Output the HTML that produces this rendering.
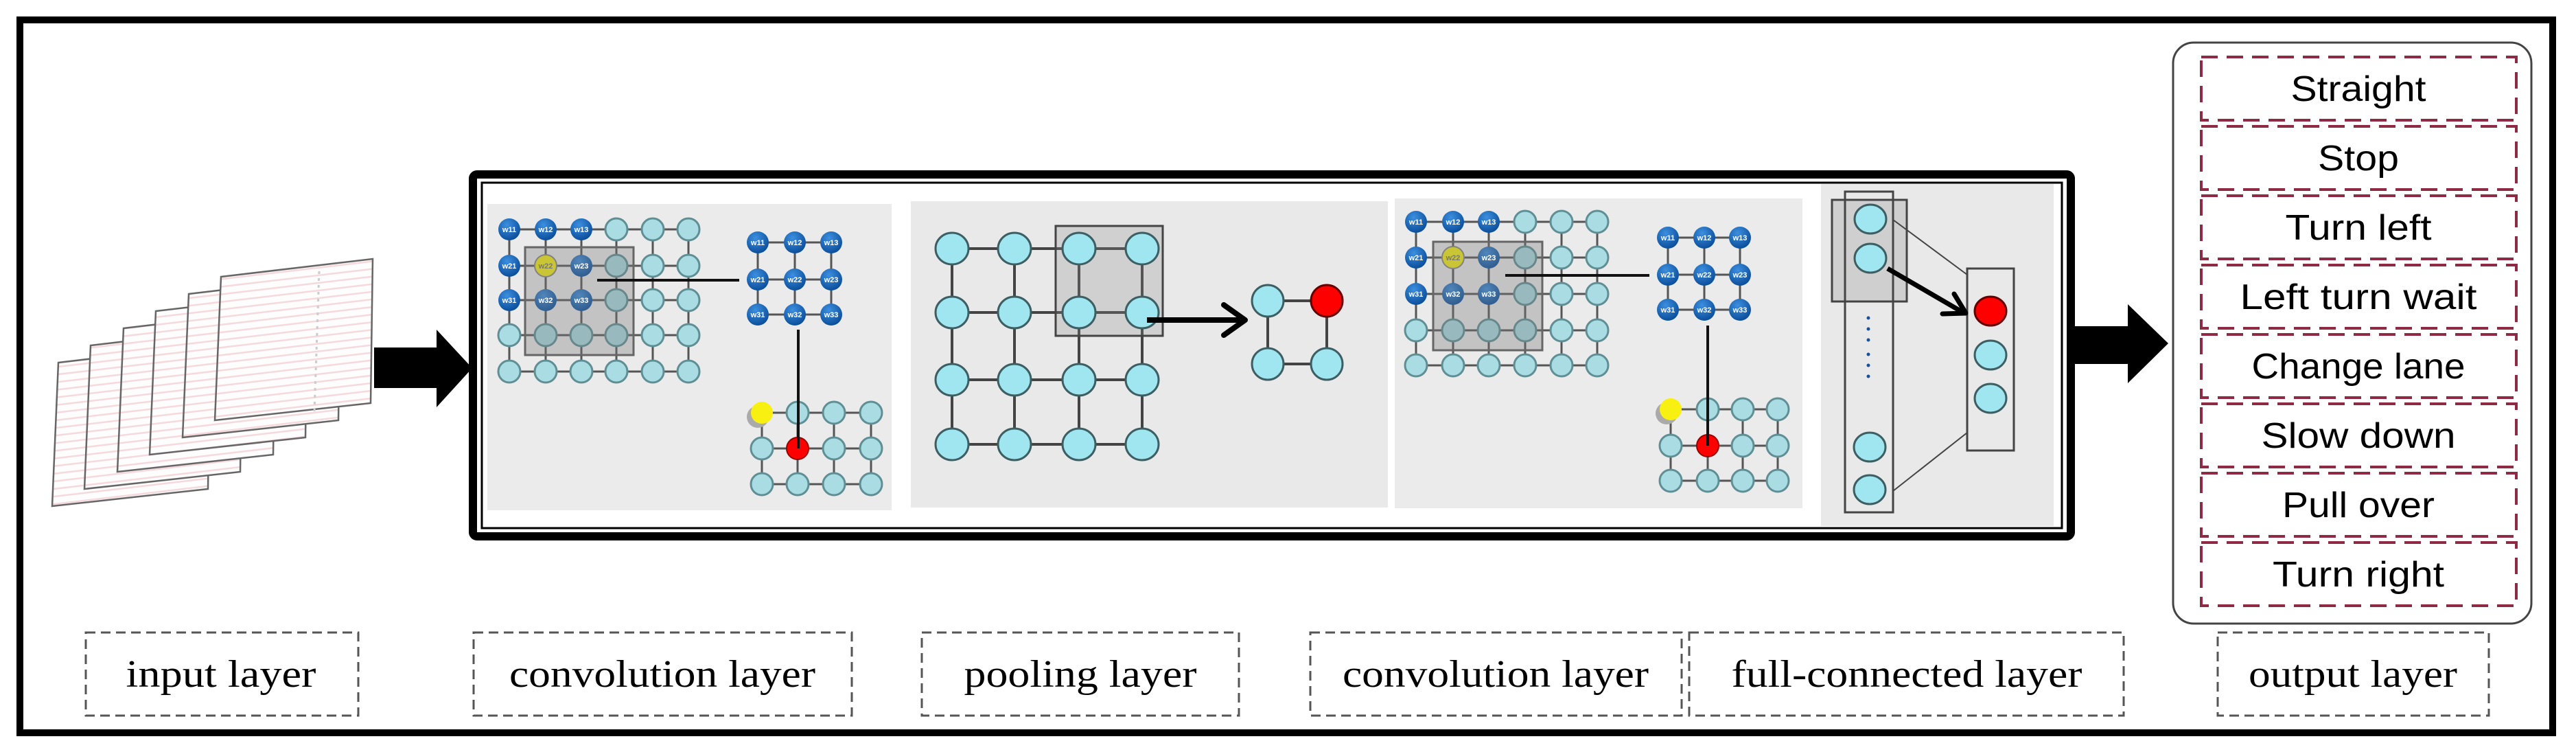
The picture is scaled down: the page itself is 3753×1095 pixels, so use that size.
<!DOCTYPE html>
<html><head><meta charset="utf-8"><style>
html,body{margin:0;padding:0;background:#fff;}
svg{display:block;}
</style></head><body>
<svg width="3753" height="1095" viewBox="0 0 3753 1095" xmlns="http://www.w3.org/2000/svg">
<defs>
<pattern id="lines" patternUnits="userSpaceOnUse" width="40" height="11" patternTransform="rotate(-6.7)">
<rect width="40" height="11" fill="#fdfdfd"/>
<rect y="0" width="40" height="2.5" fill="#f6d9dc"/>
</pattern>
<radialGradient id="blue" cx="0.4" cy="0.3" r="0.7">
<stop offset="0" stop-color="#3d8fe0"/><stop offset="1" stop-color="#0b4f9c"/>
</radialGradient>
</defs>
<rect x="29" y="29" width="3690" height="1038" fill="#fff" stroke="#000" stroke-width="10"/>

<g stroke="#666" stroke-width="2.5">
<polygon points="85,528 306,502 303,712 76,737" fill="url(#lines)"/>
<polygon points="132,503 353,477 350,687 123,712" fill="url(#lines)"/>
<polygon points="180,478 401,452 398,662 171,687" fill="url(#lines)"/>
<polygon points="227,453 448,427 445,637 218,662" fill="url(#lines)"/>
<polygon points="275,428 496,402 493,612 266,637" fill="url(#lines)"/>
<polygon points="322,403 543,377 540,587 313,612" fill="url(#lines)"/>
</g>
<line x1="465" y1="395" x2="458" y2="600" stroke="#ccc" stroke-width="3" stroke-dasharray="4 6"/>

<polygon points="545,506 636,506 636,480 688,536 636,593 636,565 545,565" fill="#000"/>

<rect x="689" y="254" width="2328" height="527" rx="6" fill="#fff" stroke="#000" stroke-width="12"/>
<rect x="702" y="266" width="2302" height="503" fill="none" stroke="#000" stroke-width="3"/>

<rect x="710" y="297" width="589" height="446" fill="#ebebeb"/>
<rect x="1327" y="293" width="695" height="446" fill="#e9e9e9"/>
<rect x="2032" y="289" width="594" height="451" fill="#ebebeb"/>
<rect x="2653" y="268" width="339" height="498" fill="#e9e9e9"/>

<g stroke="#555" stroke-width="3">
<line x1="742" y1="334" x2="1003" y2="334"/><line x1="742" y1="387" x2="1003" y2="387"/><line x1="742" y1="437" x2="1003" y2="437"/><line x1="742" y1="488" x2="1003" y2="488"/><line x1="742" y1="541" x2="1003" y2="541"/>
<line x1="742" y1="334" x2="742" y2="541"/><line x1="795" y1="334" x2="795" y2="541"/><line x1="847" y1="334" x2="847" y2="541"/><line x1="898" y1="334" x2="898" y2="541"/><line x1="951" y1="334" x2="951" y2="541"/><line x1="1003" y1="334" x2="1003" y2="541"/>
</g>
<g fill="#a9dde3" stroke="#5f8f95" stroke-width="3">
<circle cx="898" cy="334" r="16"/><circle cx="951" cy="334" r="16"/><circle cx="1003" cy="334" r="16"/>
<circle cx="898" cy="387" r="16"/><circle cx="951" cy="387" r="16"/><circle cx="1003" cy="387" r="16"/>
<circle cx="898" cy="437" r="16"/><circle cx="951" cy="437" r="16"/><circle cx="1003" cy="437" r="16"/>
<circle cx="742" cy="488" r="16"/><circle cx="795" cy="488" r="16"/><circle cx="847" cy="488" r="16"/><circle cx="898" cy="488" r="16"/><circle cx="951" cy="488" r="16"/><circle cx="1003" cy="488" r="16"/>
<circle cx="742" cy="541" r="16"/><circle cx="795" cy="541" r="16"/><circle cx="847" cy="541" r="16"/><circle cx="898" cy="541" r="16"/><circle cx="951" cy="541" r="16"/><circle cx="1003" cy="541" r="16"/>
</g>
<g fill="url(#blue)">
<circle cx="742" cy="334" r="16"/><circle cx="795" cy="334" r="16"/><circle cx="847" cy="334" r="16"/>
<circle cx="742" cy="387" r="16"/><circle cx="847" cy="387" r="16"/>
<circle cx="742" cy="437" r="16"/><circle cx="795" cy="437" r="16"/><circle cx="847" cy="437" r="16"/>
</g>
<circle cx="795" cy="387" r="16" fill="#f4ee10" stroke="#888" stroke-width="2"/>
<rect x="765" y="360" width="158" height="157" fill="#777" fill-opacity="0.35" stroke="#666" stroke-width="3"/>
<g font-family="Liberation Sans, sans-serif" font-size="11" font-weight="bold" fill="#fff" text-anchor="middle">
<text x="742" y="338">w11</text><text x="795" y="338">w12</text><text x="847" y="338">w13</text>
<text x="742" y="391">w21</text><text x="795" y="391" fill="#777">w22</text><text x="847" y="391">w23</text>
<text x="742" y="441">w31</text><text x="795" y="441">w32</text><text x="847" y="441">w33</text>
</g>
<line x1="870" y1="408" x2="1077" y2="408" stroke="#111" stroke-width="4"/>
<g stroke="#555" stroke-width="3">
<line x1="1104" y1="353" x2="1211" y2="353"/><line x1="1104" y1="407" x2="1211" y2="407"/><line x1="1104" y1="458" x2="1211" y2="458"/>
<line x1="1104" y1="353" x2="1104" y2="458"/><line x1="1158" y1="353" x2="1158" y2="458"/><line x1="1211" y1="353" x2="1211" y2="458"/>
</g>
<g fill="url(#blue)">
<circle cx="1104" cy="353" r="16"/><circle cx="1158" cy="353" r="16"/><circle cx="1211" cy="353" r="16"/>
<circle cx="1104" cy="407" r="16"/><circle cx="1158" cy="407" r="16"/><circle cx="1211" cy="407" r="16"/>
<circle cx="1104" cy="458" r="16"/><circle cx="1158" cy="458" r="16"/><circle cx="1211" cy="458" r="16"/>
</g>
<g font-family="Liberation Sans, sans-serif" font-size="11" font-weight="bold" fill="#fff" text-anchor="middle">
<text x="1104" y="357">w11</text><text x="1158" y="357">w12</text><text x="1211" y="357">w13</text>
<text x="1104" y="411">w21</text><text x="1158" y="411">w22</text><text x="1211" y="411">w23</text>
<text x="1104" y="462">w31</text><text x="1158" y="462">w32</text><text x="1211" y="462">w33</text>
</g>
<g stroke="#555" stroke-width="3">
<line x1="1110" y1="601" x2="1269" y2="601"/><line x1="1110" y1="653" x2="1269" y2="653"/><line x1="1110" y1="705" x2="1269" y2="705"/>
<line x1="1110" y1="601" x2="1110" y2="705"/><line x1="1162" y1="601" x2="1162" y2="705"/><line x1="1215" y1="601" x2="1215" y2="705"/><line x1="1269" y1="601" x2="1269" y2="705"/>
</g>
<g fill="#a9dde3" stroke="#5f8f95" stroke-width="3">
<circle cx="1162" cy="601" r="16"/><circle cx="1215" cy="601" r="16"/><circle cx="1269" cy="601" r="16"/>
<circle cx="1110" cy="653" r="16"/><circle cx="1215" cy="653" r="16"/><circle cx="1269" cy="653" r="16"/>
<circle cx="1110" cy="705" r="16"/><circle cx="1162" cy="705" r="16"/><circle cx="1215" cy="705" r="16"/><circle cx="1269" cy="705" r="16"/>
</g>
<circle cx="1104" cy="607" r="16" fill="#aaa"/>
<circle cx="1110" cy="601" r="16" fill="#f8f010"/>
<circle cx="1162" cy="653" r="16" fill="#f00" stroke="#900" stroke-width="2"/>
<line x1="1163" y1="480" x2="1163" y2="653" stroke="#111" stroke-width="4"/>

<g stroke="#444" stroke-width="4">
<line x1="1387" y1="362" x2="1664" y2="362"/><line x1="1387" y1="455" x2="1664" y2="455"/><line x1="1387" y1="553" x2="1664" y2="553"/><line x1="1387" y1="647" x2="1664" y2="647"/>
<line x1="1387" y1="362" x2="1387" y2="647"/><line x1="1478" y1="362" x2="1478" y2="647"/><line x1="1572" y1="362" x2="1572" y2="647"/><line x1="1664" y1="362" x2="1664" y2="647"/>
<line x1="1847" y1="438" x2="1933" y2="438"/><line x1="1847" y1="530" x2="1933" y2="530"/><line x1="1847" y1="438" x2="1847" y2="530"/><line x1="1933" y1="438" x2="1933" y2="530"/>
</g>
<rect x="1538" y="329" width="156" height="160" fill="#888" fill-opacity="0.25" stroke="#444" stroke-width="3"/>
<g fill="#9fe6f0" stroke="#3d5f63" stroke-width="3">
<ellipse cx="1387" cy="362" rx="24" ry="23"/><ellipse cx="1478" cy="362" rx="24" ry="23"/><ellipse cx="1572" cy="362" rx="24" ry="23"/><ellipse cx="1664" cy="362" rx="24" ry="23"/>
<ellipse cx="1387" cy="455" rx="24" ry="23"/><ellipse cx="1478" cy="455" rx="24" ry="23"/><ellipse cx="1572" cy="455" rx="24" ry="23"/><ellipse cx="1664" cy="455" rx="24" ry="23"/>
<ellipse cx="1387" cy="553" rx="24" ry="23"/><ellipse cx="1478" cy="553" rx="24" ry="23"/><ellipse cx="1572" cy="553" rx="24" ry="23"/><ellipse cx="1664" cy="553" rx="24" ry="23"/>
<ellipse cx="1387" cy="647" rx="24" ry="23"/><ellipse cx="1478" cy="647" rx="24" ry="23"/><ellipse cx="1572" cy="647" rx="24" ry="23"/><ellipse cx="1664" cy="647" rx="24" ry="23"/>
<ellipse cx="1847" cy="438" rx="23" ry="23"/><ellipse cx="1847" cy="530" rx="23" ry="23"/><ellipse cx="1933" cy="530" rx="23" ry="23"/>
</g>
<ellipse cx="1933" cy="438" rx="23" ry="23" fill="#f00" stroke="#600" stroke-width="3"/>
<line x1="1671" y1="466" x2="1812" y2="466" stroke="#000" stroke-width="8"/>
<polyline points="1783,444 1814,466 1783,488" fill="none" stroke="#000" stroke-width="8" stroke-linejoin="round" stroke-linecap="round"/>

<g stroke="#555" stroke-width="3">
<line x1="2063" y1="323" x2="2327" y2="323"/><line x1="2063" y1="375" x2="2327" y2="375"/><line x1="2063" y1="428" x2="2327" y2="428"/><line x1="2063" y1="481" x2="2327" y2="481"/><line x1="2063" y1="532" x2="2327" y2="532"/>
<line x1="2063" y1="323" x2="2063" y2="532"/><line x1="2117" y1="323" x2="2117" y2="532"/><line x1="2169" y1="323" x2="2169" y2="532"/><line x1="2222" y1="323" x2="2222" y2="532"/><line x1="2275" y1="323" x2="2275" y2="532"/><line x1="2327" y1="323" x2="2327" y2="532"/>
</g>
<g fill="#a9dde3" stroke="#5f8f95" stroke-width="3">
<circle cx="2222" cy="323" r="16"/><circle cx="2275" cy="323" r="16"/><circle cx="2327" cy="323" r="16"/>
<circle cx="2222" cy="375" r="16"/><circle cx="2275" cy="375" r="16"/><circle cx="2327" cy="375" r="16"/>
<circle cx="2222" cy="428" r="16"/><circle cx="2275" cy="428" r="16"/><circle cx="2327" cy="428" r="16"/>
<circle cx="2063" cy="481" r="16"/><circle cx="2117" cy="481" r="16"/><circle cx="2169" cy="481" r="16"/><circle cx="2222" cy="481" r="16"/><circle cx="2275" cy="481" r="16"/><circle cx="2327" cy="481" r="16"/>
<circle cx="2063" cy="532" r="16"/><circle cx="2117" cy="532" r="16"/><circle cx="2169" cy="532" r="16"/><circle cx="2222" cy="532" r="16"/><circle cx="2275" cy="532" r="16"/><circle cx="2327" cy="532" r="16"/>
</g>
<g fill="url(#blue)">
<circle cx="2063" cy="323" r="16"/><circle cx="2117" cy="323" r="16"/><circle cx="2169" cy="323" r="16"/>
<circle cx="2063" cy="375" r="16"/><circle cx="2169" cy="375" r="16"/>
<circle cx="2063" cy="428" r="16"/><circle cx="2117" cy="428" r="16"/><circle cx="2169" cy="428" r="16"/>
</g>
<circle cx="2117" cy="375" r="16" fill="#f4ee10" stroke="#888" stroke-width="2"/>
<rect x="2088" y="352" width="159" height="158" fill="#777" fill-opacity="0.35" stroke="#666" stroke-width="3"/>
<g font-family="Liberation Sans, sans-serif" font-size="11" font-weight="bold" fill="#fff" text-anchor="middle">
<text x="2063" y="327">w11</text><text x="2117" y="327">w12</text><text x="2169" y="327">w13</text>
<text x="2063" y="379">w21</text><text x="2117" y="379" fill="#777">w22</text><text x="2169" y="379">w23</text>
<text x="2063" y="432">w31</text><text x="2117" y="432">w32</text><text x="2169" y="432">w33</text>
</g>
<line x1="2193" y1="401" x2="2403" y2="401" stroke="#111" stroke-width="4"/>
<g stroke="#555" stroke-width="3">
<line x1="2430" y1="346" x2="2535" y2="346"/><line x1="2430" y1="400" x2="2535" y2="400"/><line x1="2430" y1="451" x2="2535" y2="451"/>
<line x1="2430" y1="346" x2="2430" y2="451"/><line x1="2483" y1="346" x2="2483" y2="451"/><line x1="2535" y1="346" x2="2535" y2="451"/>
</g>
<g fill="url(#blue)">
<circle cx="2430" cy="346" r="16"/><circle cx="2483" cy="346" r="16"/><circle cx="2535" cy="346" r="16"/>
<circle cx="2430" cy="400" r="16"/><circle cx="2483" cy="400" r="16"/><circle cx="2535" cy="400" r="16"/>
<circle cx="2430" cy="451" r="16"/><circle cx="2483" cy="451" r="16"/><circle cx="2535" cy="451" r="16"/>
</g>
<g font-family="Liberation Sans, sans-serif" font-size="11" font-weight="bold" fill="#fff" text-anchor="middle">
<text x="2430" y="350">w11</text><text x="2483" y="350">w12</text><text x="2535" y="350">w13</text>
<text x="2430" y="404">w21</text><text x="2483" y="404">w22</text><text x="2535" y="404">w23</text>
<text x="2430" y="455">w31</text><text x="2483" y="455">w32</text><text x="2535" y="455">w33</text>
</g>
<g stroke="#555" stroke-width="3">
<line x1="2434" y1="596" x2="2590" y2="596"/><line x1="2434" y1="649" x2="2590" y2="649"/><line x1="2434" y1="700" x2="2590" y2="700"/>
<line x1="2434" y1="596" x2="2434" y2="700"/><line x1="2488" y1="596" x2="2488" y2="700"/><line x1="2539" y1="596" x2="2539" y2="700"/><line x1="2590" y1="596" x2="2590" y2="700"/>
</g>
<g fill="#a9dde3" stroke="#5f8f95" stroke-width="3">
<circle cx="2488" cy="596" r="16"/><circle cx="2539" cy="596" r="16"/><circle cx="2590" cy="596" r="16"/>
<circle cx="2434" cy="649" r="16"/><circle cx="2539" cy="649" r="16"/><circle cx="2590" cy="649" r="16"/>
<circle cx="2434" cy="700" r="16"/><circle cx="2488" cy="700" r="16"/><circle cx="2539" cy="700" r="16"/><circle cx="2590" cy="700" r="16"/>
</g>
<circle cx="2428" cy="602" r="16" fill="#aaa"/>
<circle cx="2434" cy="596" r="16" fill="#f8f010"/>
<circle cx="2488" cy="649" r="16" fill="#f00" stroke="#900" stroke-width="2"/>
<line x1="2488" y1="474" x2="2488" y2="649" stroke="#111" stroke-width="4"/>

<rect x="2669" y="291" width="109" height="148" fill="#cfcfcf" stroke="#444" stroke-width="3"/>
<rect x="2688" y="279" width="70" height="467" fill="none" stroke="#444" stroke-width="3"/>
<rect x="2866" y="391" width="68" height="265" fill="none" stroke="#444" stroke-width="3"/>
<line x1="2758" y1="320" x2="2866" y2="400" stroke="#444" stroke-width="2"/>
<line x1="2758" y1="715" x2="2866" y2="630" stroke="#444" stroke-width="2"/>
<g fill="#9fe6f0" stroke="#3d5f63" stroke-width="3">
<ellipse cx="2725" cy="319" rx="23" ry="21"/><ellipse cx="2725" cy="376" rx="23" ry="21"/>
<ellipse cx="2724" cy="651" rx="23" ry="21"/><ellipse cx="2724" cy="713" rx="23" ry="21"/>
<ellipse cx="2900" cy="517" rx="23" ry="21"/><ellipse cx="2900" cy="580" rx="23" ry="21"/>
</g>
<ellipse cx="2900" cy="453" rx="23" ry="21" fill="#f00" stroke="#600" stroke-width="3"/>
<g fill="#1a4f9a"><circle cx="2722" cy="463" r="2.5"/><circle cx="2722" cy="479" r="2.5"/><circle cx="2722" cy="495" r="2.5"/><circle cx="2722" cy="516" r="2.5"/><circle cx="2722" cy="532" r="2.5"/><circle cx="2722" cy="548" r="2.5"/></g>
<line x1="2750" y1="391" x2="2860" y2="455" stroke="#000" stroke-width="7"/>
<polyline points="2847,428 2864,456 2830,457" fill="none" stroke="#000" stroke-width="7" stroke-linejoin="round" stroke-linecap="round"/>

<polygon points="3017,475 3100,475 3100,443 3159,500 3100,558 3100,530 3017,530" fill="#000"/>

<rect x="3166" y="62" width="522" height="846" rx="30" fill="#fff" stroke="#444" stroke-width="3"/>
<g fill="none" stroke="#8e2a43" stroke-width="4" stroke-dasharray="24 13">
<rect x="3207" y="83" width="459" height="92"/><rect x="3207" y="184" width="459" height="92"/>
<rect x="3207" y="285" width="459" height="92"/><rect x="3207" y="386" width="459" height="92"/>
<rect x="3207" y="487" width="459" height="92"/><rect x="3207" y="588" width="459" height="92"/>
<rect x="3207" y="689" width="459" height="92"/><rect x="3207" y="790" width="459" height="92"/>
</g>
<g font-family="Liberation Sans, sans-serif" font-size="52" fill="#000" text-anchor="middle">
<text x="3436" y="147" textLength="197" lengthAdjust="spacingAndGlyphs">Straight</text>
<text x="3436" y="248" textLength="118" lengthAdjust="spacingAndGlyphs">Stop</text>
<text x="3436" y="349" textLength="213" lengthAdjust="spacingAndGlyphs">Turn left</text>
<text x="3436" y="450" textLength="345" lengthAdjust="spacingAndGlyphs">Left turn wait</text>
<text x="3436" y="551" textLength="311" lengthAdjust="spacingAndGlyphs">Change lane</text>
<text x="3436" y="652" textLength="283" lengthAdjust="spacingAndGlyphs">Slow down</text>
<text x="3436" y="753" textLength="222" lengthAdjust="spacingAndGlyphs">Pull over</text>
<text x="3436" y="854" textLength="250" lengthAdjust="spacingAndGlyphs">Turn right</text>
</g>

<g fill="none" stroke="#555" stroke-width="3" stroke-dasharray="14 8">
<rect x="125" y="921" width="397" height="121"/>
<rect x="690" y="921" width="551" height="121"/>
<rect x="1343" y="921" width="462" height="121"/>
<rect x="1909" y="921" width="541" height="121"/>
<rect x="2461" y="921" width="633" height="121"/>
<rect x="3231" y="921" width="395" height="121"/>
</g>
<g font-family="Liberation Serif, serif" font-size="56" fill="#000" text-anchor="middle">
<text x="322" y="1000" textLength="277" lengthAdjust="spacingAndGlyphs">input layer</text>
<text x="965" y="1000" textLength="446" lengthAdjust="spacingAndGlyphs">convolution layer</text>
<text x="1574" y="1000" textLength="339" lengthAdjust="spacingAndGlyphs">pooling layer</text>
<text x="2179" y="1000" textLength="446" lengthAdjust="spacingAndGlyphs">convolution layer</text>
<text x="2778" y="1000" textLength="511" lengthAdjust="spacingAndGlyphs">full-connected layer</text>
<text x="3428" y="1000" textLength="304" lengthAdjust="spacingAndGlyphs">output layer</text>
</g>
</svg>
</body></html>
